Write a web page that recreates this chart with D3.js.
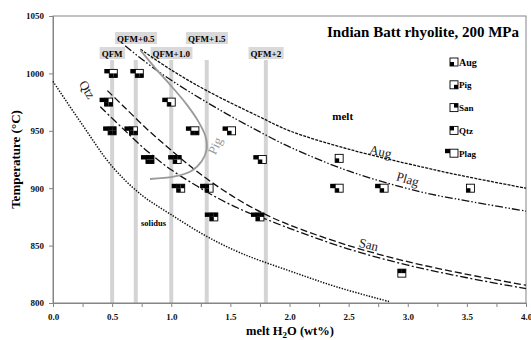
<!DOCTYPE html>
<html>
<head>
<meta charset="utf-8">
<script src="https://cdn.jsdelivr.net/npm/d3@7"></script>
<style>
  body { margin: 0; background: #fff; }
  text { font-family: "Liberation Serif", "DejaVu Serif", serif; }
</style>
</head>
<body>
<svg id="chart" width="531" height="340"></svg>
<script>
////////////////////////////////////////////////////////////////////////////////
// Data
var title = "Indian Batt rhyolite, 200 MPa"
var yTicks = [800, 850, 900, 950, 1000, 1050]
var xTicks = [0, 0.25, 0.5, 0.75, 1, 1.25, 1.5, 1.75, 2, 2.25, 2.5, 2.75, 3, 3.25, 3.5, 3.75, 4]

// oxygen buffer guide lines
var bufferNames = ["QFM", "QFM+0.5", "QFM+1.0", "QFM+1.5", "QFM+2"]
var bufferH2O = [0.5, 0.7, 1.0, 1.3, 1.8]
var bufferRow = [0, 1, 0, 1, 0]

// phase-in curves [H2O, T]
var solidus = [[0, 993], [0.25, 955], [0.5, 919], [0.75, 894], [1.0, 877], [1.3, 858],
               [1.6, 843], [2.0, 828], [2.4, 814], [2.85, 801]]
var augCurve = [[0.74, 1021], [1.0, 1003], [1.3, 985], [1.75, 962], [2.0, 950],
                [2.5, 934], [3.14, 918], [3.5, 910], [4.0, 900]]
var plagCurve = [[0.61, 1024], [0.9, 1001], [1.33, 973], [1.75, 949], [2.0, 936],
                 [2.5, 915], [3.1, 897], [3.5, 889], [4.0, 880]]
var qtzCurve = [[0.46, 985], [0.6, 971], [0.8, 951], [1.0, 933], [1.2, 916], [1.4, 901],
                [1.6, 888], [1.8, 877], [2.0, 868], [2.5, 850], [3.0, 836], [3.5, 825], [4.0, 815.5]]
var sanCurve = [[0.4, 971], [0.6, 951], [0.8, 932], [1.0, 916], [1.2, 903], [1.4, 891],
                [1.6, 881], [1.8, 873], [2.0, 865], [2.5, 847], [3.0, 833], [3.5, 822], [4.0, 812.5]]
var pigCurve = [[0.74, 1020], [0.87, 1004], [1.0, 989], [1.13, 973], [1.23, 958], [1.29, 945],
                [1.3, 934], [1.26, 924], [1.17, 915], [1.02, 910], [0.82, 908]]

// experiments
var expH2O = [0.51, 0.73, 0.47, 1.0, 0.5, 0.68, 1.2, 1.51, 0.82, 1.05, 1.77, 2.42,
              1.08, 1.32, 1.36, 1.75, 2.42, 2.8, 3.53, 2.95]
var expT = [1000, 1000, 975, 975, 950, 950, 950, 950, 925, 925, 925, 926,
            900, 900, 875, 875, 900, 900, 900, 826]
var expPhases = [
  "Plag Aug Pig", "Plag Aug Pig", "Plag Qtz Aug Pig", "Plag Aug",
  "Plag Qtz San Aug Pig", "Plag Qtz Aug Pig", "Plag Aug Pig", "Plag Aug",
  "Plag Qtz San Aug Pig", "Plag Qtz San Aug", "Plag Aug", "Aug",
  "Plag Qtz San Aug", "Plag Qtz Aug", "Plag Qtz San Aug", "Plag Qtz San Aug",
  "Plag Aug", "Plag Aug", "Aug", "Qtz San"]

var legendNames = ["Aug", "Pig", "San", "Qtz", "Plag"]

////////////////////////////////////////////////////////////////////////////////
// Layout
var svg = d3.select("#chart")
var plotLeft = 53, plotRight = 526, plotTop = 16, plotBottom = 303

var x = d3.scaleLinear().domain([0, 4]).range([plotLeft, plotRight])
var y = d3.scaleLinear().domain([800, 1050]).range([plotBottom, plotTop])

// guide lines
svg.selectAll("line.buf")
  .data(bufferH2O)
  .join("line")
  .attr("x1", d => x(d)).attr("x2", d => x(d))
  .attr("y1", 60).attr("y2", plotBottom)
  .attr("stroke", "#d4d4d4").attr("stroke-width", 4)

// frame
svg.append("rect")
  .attr("x", plotLeft).attr("y", plotTop)
  .attr("width", plotRight - plotLeft).attr("height", plotBottom - plotTop)
  .attr("fill", "none").attr("stroke", "#858585")

// axes
var yAxis = svg.append("g")
  .attr("transform", "translate(" + plotLeft + ",0)")
  .call(d3.axisLeft(y).tickValues(yTicks).tickSize(4).tickPadding(5).tickFormat(d3.format("d")))
var xAxis = svg.append("g")
  .attr("transform", "translate(0," + plotBottom + ")")
  .call(d3.axisBottom(x).tickValues(xTicks).tickSize(4).tickPadding(7)
    .tickFormat(d => (d * 2) % 1 === 0 ? d3.format(".1f")(d) : ""))
;[yAxis, xAxis].forEach(function(g) {
  g.select(".domain").attr("stroke", "#858585")
  g.selectAll(".tick line").attr("stroke", "#858585")
  g.selectAll("text")
    .attr("fill", "#111")
    .style("font-family", "Liberation Serif")
    .style("font-weight", "bold")
    .style("font-size", "9px")
})

svg.append("text")
  .attr("transform", "translate(20," + ((plotTop + plotBottom) / 2) + ") rotate(-90)")
  .attr("text-anchor", "middle")
  .style("font-weight", "bold").style("font-size", "13px")
  .text("Temperature (°C)")

var xl = svg.append("text")
  .attr("x", 290).attr("y", 335)
  .attr("text-anchor", "middle")
  .style("font-weight", "bold").style("font-size", "12.5px")
xl.append("tspan").text("melt H")
xl.append("tspan").attr("dy", 3).style("font-size", "9px").text("2")
xl.append("tspan").attr("dy", -3).text("O (wt%)")

// buffer labels
bufferNames.forEach(function(name, i) {
  var cx = x(bufferH2O[i])
  var cy = bufferRow[i] ? 38 : 53
  var t = svg.append("text")
    .attr("x", cx).attr("y", cy + 3.5)
    .attr("text-anchor", "middle")
    .style("font-weight", "bold").style("font-size", "9px")
    .text(name)
  var bb = t.node().getBBox()
  svg.insert("rect", function() { return t.node() })
    .attr("x", bb.x - 2).attr("y", cy - 6)
    .attr("width", bb.width + 4).attr("height", 12)
    .attr("fill", "#d9d9d9")
})

// curves
var line = d3.line()
  .x(d => x(d[0])).y(d => y(d[1]))
  .curve(d3.curveCatmullRom.alpha(0.5))

var curves = [
  {data: solidus, dash: "1.4,1.4", width: 1.5, color: "#111"},
  {data: augCurve, dash: "3,1.2", width: 1.3, color: "#111"},
  {data: plagCurve, dash: "8,2,1.5,2,1.5,2", width: 1.3, color: "#111"},
  {data: qtzCurve, dash: "7,3", width: 1.3, color: "#111"},
  {data: sanCurve, dash: "8,2.5,2,2.5", width: 1.3, color: "#111"},
  {data: pigCurve, dash: null, width: 1.8, color: "#9a9a9a"}
]
svg.selectAll("path.curve")
  .data(curves)
  .join("path")
  .attr("d", d => line(d.data))
  .attr("fill", "none")
  .attr("stroke", d => d.color)
  .attr("stroke-width", d => d.width)
  .attr("stroke-dasharray", d => d.dash)

// curve labels
var curveLabels = [
  {text: "Aug", h: 2.77, t: 932, rot: 12, color: "#222"},
  {text: "Plag", h: 3.0, t: 908, rot: 16, color: "#222"},
  {text: "San", h: 2.67, t: 851, rot: 13, color: "#222"},
  {text: "Qtz", h: 0.29, t: 986, rot: 58, color: "#222"},
  {text: "Pig", h: 1.37, t: 937, rot: -65, color: "#999"}
]
curveLabels.forEach(function(d) {
  svg.append("text")
    .attr("transform", "translate(" + x(d.h) + "," + y(d.t) + ") rotate(" + d.rot + ")")
    .attr("text-anchor", "middle").attr("dy", "0.35em")
    .attr("fill", d.color)
    .style("font-size", "13px")
    .text(d.text)
})

svg.append("text")
  .attr("x", x(2.45)).attr("y", y(963) + 4)
  .attr("text-anchor", "middle")
  .style("font-weight", "bold").style("font-size", "11px")
  .text("melt")

svg.append("text")
  .attr("x", x(0.85)).attr("y", y(870) + 3)
  .attr("text-anchor", "middle")
  .style("font-weight", "bold").style("font-size", "8.5px")
  .text("solidus")

// markers
var quad = {Qtz: [-4, -4], San: [0, -4], Aug: [-4, 0], Pig: [0, 0]}
function marker(g, phases) {
  g.append("rect")
    .attr("x", -4).attr("y", -4).attr("width", 8).attr("height", 8)
    .attr("fill", "#fff")
  phases.forEach(function(p) {
    if (quad[p]) {
      g.append("rect")
        .attr("x", quad[p][0]).attr("y", quad[p][1])
        .attr("width", 4).attr("height", 4).attr("fill", "#000")
    }
  })
  g.append("rect")
    .attr("x", -4).attr("y", -4).attr("width", 8).attr("height", 8)
    .attr("fill", "none").attr("stroke", "#000").attr("stroke-width", 0.9)
  if (phases.indexOf("Plag") >= 0) {
    g.append("rect")
      .attr("x", -9).attr("y", -4.4).attr("width", 5).attr("height", 4.4)
      .attr("fill", "#000")
  }
}

expH2O.forEach(function(h, i) {
  var g = svg.append("g").attr("transform", "translate(" + x(h) + "," + y(expT[i]) + ")")
  marker(g, expPhases[i].split(" "))
})

// legend
legendNames.forEach(function(name, i) {
  var ly = 62 + i * 22.8
  var g = svg.append("g").attr("transform", "translate(454," + ly + ")")
  marker(g, [name])
  svg.append("text")
    .attr("x", 459).attr("y", ly + 3.5)
    .style("font-weight", "bold").style("font-size", i === 0 ? "10px" : "9px")
    .text(name)
})

// title
svg.append("text")
  .attr("x", 519).attr("y", 37)
  .attr("text-anchor", "end")
  .style("font-weight", "bold").style("font-size", "15px")
  .text(title)
</script>
</body>
</html>
